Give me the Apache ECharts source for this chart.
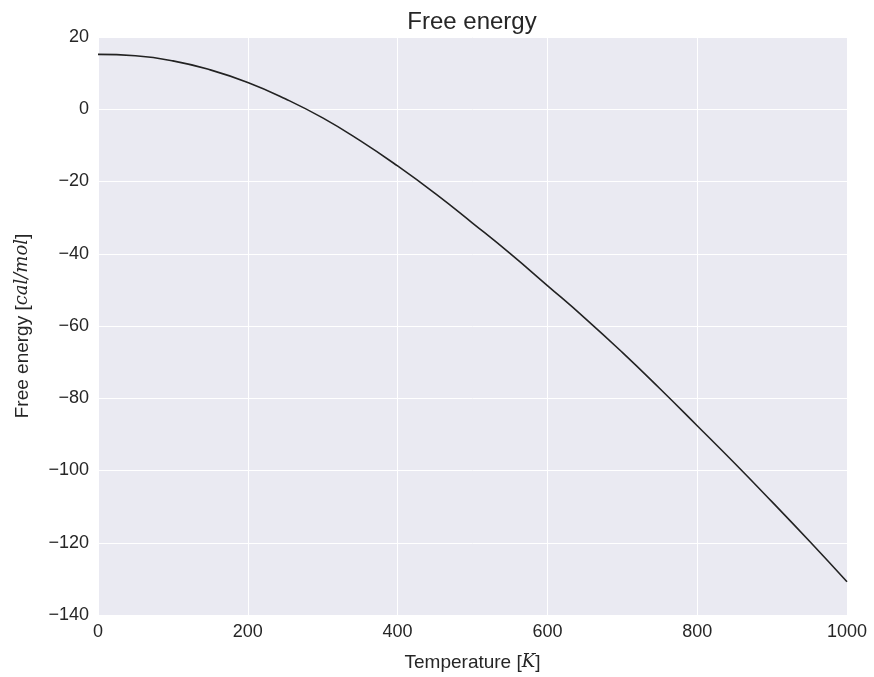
<!DOCTYPE html>
<html>
<head>
<meta charset="utf-8">
<script src="https://cdn.jsdelivr.net/npm/echarts@6/dist/echarts.min.js"></script>
<style>
html, body { margin: 0; padding: 0; background: #fff; }
#chart { width: 874px; height: 677px; }
</style>
</head>
<body>
<div id="chart"></div>
<script>
// temperature [K] and free energy [cal/mol]
var temps = [0, 50, 100, 150, 200, 250, 300, 350, 400, 450, 500,
             550, 600, 650, 700, 750, 800, 850, 900, 950, 1000];
var energy = [15.2, 14.8, 13.4, 10.9, 7.4, 2.9, -2.4, -8.7, -15.7, -23.3, -31.5,
              -39.9, -48.8, -57.8, -67.3, -77.3, -87.6, -98.0, -108.7, -119.6, -130.8];
var yTicks = [-140, -120, -100, -80, -60, -40, -20, 0, 20];
var xTicks = [0, 200, 400, 600, 800, 1000];

var points = [];
for (let i = 0; i < temps.length; i++) {
    points.push([temps[i], energy[i]]);
}

var myChart = echarts.init(document.getElementById('chart'));
var font = 'Liberation Sans, Arial, sans-serif';
var mathStyle = { fontFamily: 'DejaVu Serif, serif', fontStyle: 'italic', fontSize: 18, color: '#262626' };
var option = {
    backgroundColor: '#ffffff',
    animation: false,
    title: {
        text: 'Free energy',
        left: 467,
        textAlign: 'center',
        top: 5,
        textStyle: { fontFamily: font, fontSize: 24, fontWeight: 'normal', color: '#262626' }
    },
    grid: {
        left: 98,
        right: 27,
        top: 37,
        bottom: 62,
        outerBoundsMode: 'none',
        containLabel: false,
        show: true,
        backgroundColor: '#EAEAF2',
        borderWidth: 0
    },
    xAxis: {
        type: 'value',
        min: xTicks[0],
        max: xTicks[xTicks.length - 1],
        interval: 200,
        name: 'Temperature [{i|K}]',
        nameLocation: 'middle',
        nameGap: 38,
        nameTextStyle: {
            fontFamily: font, fontSize: 19, color: '#262626',
            rich: { i: mathStyle }
        },
        axisLine: { show: false },
        axisTick: { show: false },
        axisLabel: {
            fontFamily: font, fontSize: 18, color: '#262626', margin: 8,
            formatter: function (v) { return String(v); }
        },
        splitLine: { show: true, lineStyle: { color: '#ffffff', width: 1 } }
    },
    yAxis: {
        type: 'value',
        min: yTicks[0],
        max: yTicks[yTicks.length - 1],
        interval: 20,
        name: 'Free energy [{i|cal/mol}]',
        nameLocation: 'middle',
        nameGap: 66,
        nameRotate: 90,
        nameTextStyle: {
            fontFamily: font, fontSize: 19, color: '#262626',
            rich: { i: mathStyle }
        },
        axisLine: { show: false },
        axisTick: { show: false },
        axisLabel: {
            fontFamily: font, fontSize: 18, color: '#262626', margin: 9,
            formatter: function (v) { return String(v).replace('-', '\u2212'); }
        },
        splitLine: { show: true, lineStyle: { color: '#ffffff', width: 1 } }
    },
    series: [{
        type: 'line',
        data: points,
        smooth: true,
        showSymbol: false,
        lineStyle: { color: '#222222', width: 1.6 }
    }]
};
myChart.setOption(option);
window.addEventListener("resize", function () {
    myChart.resize();
});
</script>
</body>
</html>
